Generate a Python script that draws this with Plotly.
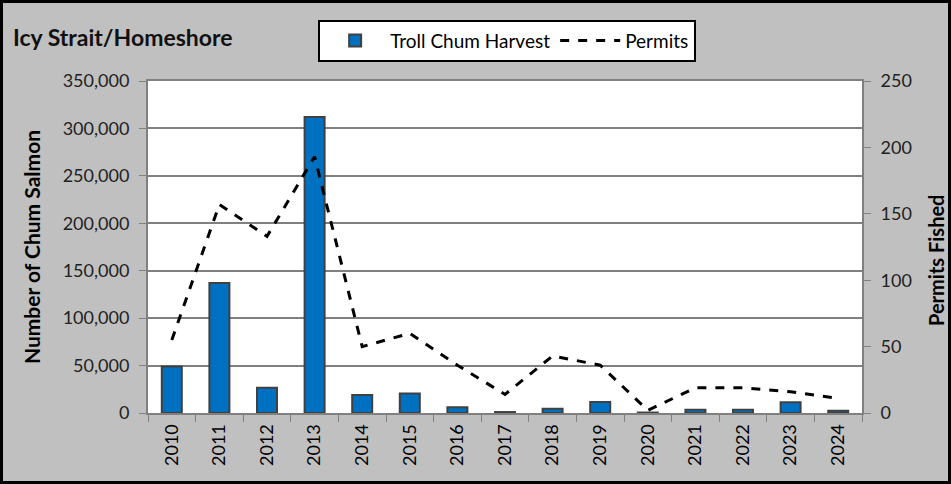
import plotly.graph_objects as go

# years and values
years = [str(y) for y in range(2010, 2025)]
harvest = [49000, 137000, 26500, 312000, 19000, 20500, 6000, 1000, 4500,
           11600, 500, 3500, 3500, 11300, 2500]
permits = [55, 157, 133, 193, 50, 60, 36, 14, 43, 36, 2, 19, 19, 16, 11]

W, H = 951, 484
ml, mr, mt, mb = 148, 89, 81, 71
pw, ph = W - ml - mr, H - mt - mb

font = "Lato"

fig = go.Figure()
fig.add_trace(go.Bar(
    x=years, y=harvest, name="Troll Chum Harvest", width=0.42,
    marker=dict(color="#0070C0", line=dict(color="#404040", width=2)),
))
fig.add_trace(go.Scatter(
    x=years, y=permits, name="Permits", yaxis="y2", mode="lines",
    line=dict(color="black", width=3, dash="dash"),
))

fig.update_layout(
    width=W, height=H,
    margin=dict(l=ml, r=mr, t=mt, b=mb),
    paper_bgcolor="#c0c0c0", plot_bgcolor="white",
    font=dict(family=font, size=18, color="#222"),
    showlegend=True,
    legend=dict(orientation="h", x=0.503, xanchor="center", y=1.185, yanchor="top",
                bgcolor="white", bordercolor="black", borderwidth=2,
                font=dict(size=19, color="black"), itemwidth=60),
    xaxis=dict(type="category", tickangle=-90, tickson="boundaries", ticks="outside",
               ticklen=7, tickcolor="#808080", showline=True, linecolor="#808080",
               linewidth=2, mirror=True, tickfont=dict(size=18, color="black"),
               ticklabelstandoff=2),
    yaxis=dict(range=[0, 350000], dtick=50000, tickformat=",", showgrid=True,
               gridcolor="#808080", gridwidth=1.5, ticks="outside", ticklen=7,
               tickcolor="#808080", showline=True, linecolor="#808080", linewidth=2,
               zeroline=False, tickfont=dict(size=18), ticklabelstandoff=6,
               title=dict(text="<b>Number of Chum Salmon</b>", font=dict(size=21, color="black"),
                          standoff=16)),
    yaxis2=dict(range=[0, 250], dtick=50, overlaying="y", side="right", showgrid=False,
                ticks="outside", ticklen=7, tickcolor="#808080", showline=True,
                linecolor="#808080", linewidth=2, zeroline=False, tickfont=dict(size=18),
                ticklabelstandoff=6),
    bargap=0.58,
)

# chart title as a free annotation in the gray area
fig.add_annotation(text="<b>Icy Strait/Homeshore</b>", xref="paper", yref="paper",
                   x=-137 / pw, y=(H - mb - 37) / ph, xanchor="left", yanchor="middle",
                   showarrow=False, font=dict(size=23, color="#111", family=font))

# right axis title, sits a little below the middle in the original
fig.add_annotation(text="<b>Permits Fished</b>", xref="paper", yref="paper",
                   x=(936 - ml) / pw, y=(H - mb - 261) / ph, textangle=-90,
                   xanchor="center", yanchor="middle", showarrow=False,
                   font=dict(size=20, color="black", family=font))

# outer black border round the whole picture
fig.add_shape(type="rect", xref="paper", yref="paper",
              x0=-(ml - 1.5) / pw, x1=(W - ml - 1.5) / pw,
              y0=-(mb - 1.5) / ph, y1=(H - mb - 1.5) / ph,
              line=dict(color="black", width=3), layer="above")

# drop the default page margin so the figure sits at the window's corner
fig.write_html("out.html", config={"displayModeBar": False},
               post_script="document.body.style.margin='0';")
